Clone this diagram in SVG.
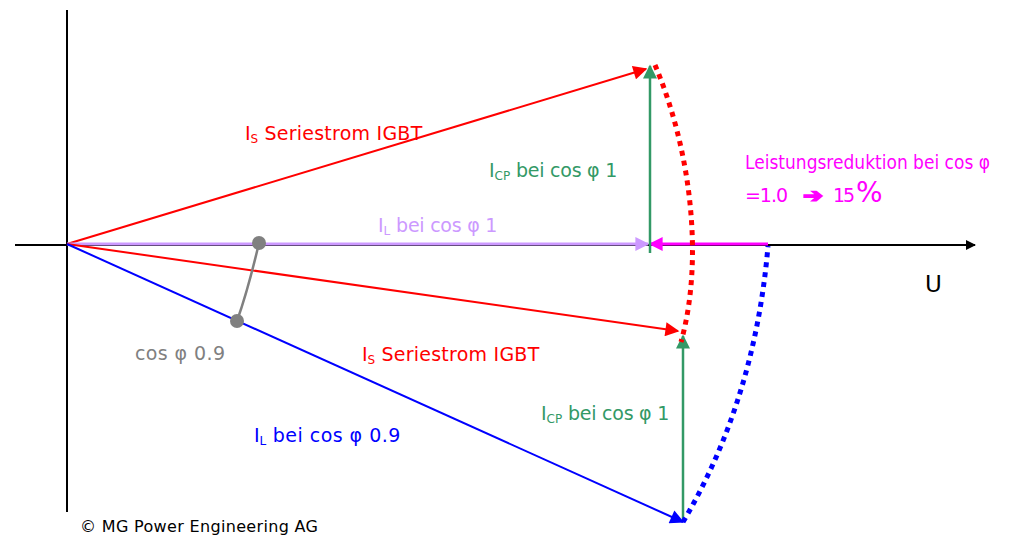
<svg xmlns="http://www.w3.org/2000/svg" width="1032" height="537" viewBox="0 0 1032 537">
<style>
text{font-family:"DejaVu Sans","Liberation Sans",sans-serif;font-size:19px}
.red{fill:#ff0000}.green{fill:#339966}.lav{fill:#cc99ff}.mag{fill:#ff00ff}.gray{fill:#808080}.blue{fill:#0000ff}
.sub{font-size:12px}
</style>
<defs>
<marker id="aBlack" viewBox="0 0 10 10" refX="9" refY="5" markerWidth="10" markerHeight="10" markerUnits="userSpaceOnUse" orient="auto"><path d="M0,0L10,5L0,10z" fill="#000"/></marker>
<marker id="aRed" viewBox="0 0 10 10" refX="9" refY="5" markerWidth="16" markerHeight="14" markerUnits="userSpaceOnUse" orient="auto"><path d="M0,0L10,5L0,10z" fill="#ff0000"/></marker>
<marker id="aGreen" viewBox="0 0 10 10" refX="9" refY="5" markerWidth="16" markerHeight="14" markerUnits="userSpaceOnUse" orient="auto"><path d="M0,0L10,5L0,10z" fill="#339966"/></marker>
<marker id="aLav" viewBox="0 0 10 10" refX="9" refY="5" markerWidth="16" markerHeight="14" markerUnits="userSpaceOnUse" orient="auto"><path d="M0,0L10,5L0,10z" fill="#cc99ff"/></marker>
<marker id="aMag" viewBox="0 0 10 10" refX="9" refY="5" markerWidth="16" markerHeight="14" markerUnits="userSpaceOnUse" orient="auto"><path d="M0,0L10,5L0,10z" fill="#ff00ff"/></marker>
<marker id="aBlue" viewBox="0 0 10 10" refX="9" refY="5" markerWidth="16" markerHeight="14" markerUnits="userSpaceOnUse" orient="auto"><path d="M0,0L10,5L0,10z" fill="#0000ff"/></marker>
</defs>
<rect width="1032" height="537" fill="#fff"/>
<g id="axes" stroke="#000" stroke-width="2" fill="none">
<line x1="67" y1="10" x2="67" y2="512"/>
<line x1="15" y1="245" x2="975" y2="245" marker-end="url(#aBlack)"/>
</g>
<g id="connectors" fill="none">
<line x1="67" y1="244" x2="646" y2="69" stroke="#ff0000" stroke-width="2" marker-end="url(#aRed)"/>
<line x1="67" y1="244" x2="648" y2="244" stroke="#cc99ff" stroke-width="3" marker-end="url(#aLav)"/>
<line x1="768" y1="244" x2="650" y2="244" stroke="#ff00ff" stroke-width="3" marker-end="url(#aMag)"/>
<line x1="650" y1="253" x2="650" y2="66" stroke="#339966" stroke-width="2.5" marker-end="url(#aGreen)"/>
<line x1="67" y1="244" x2="678" y2="331" stroke="#ff0000" stroke-width="2" marker-end="url(#aRed)"/>
<line x1="67" y1="244" x2="683" y2="522" stroke="#0000ff" stroke-width="2" marker-end="url(#aBlue)"/>
<line x1="683" y1="520" x2="683" y2="336" stroke="#339966" stroke-width="2.5" marker-end="url(#aGreen)"/>
<path d="M655,65 C691,150 704,260 681,342" stroke="#ff0000" stroke-width="5" stroke-dasharray="5 5"/>
<path d="M683,522 Q755,400 768,246" stroke="#0000ff" stroke-width="5" stroke-dasharray="5 5"/>
<path d="M259,243 Q248,290 237,321" stroke="#808080" stroke-width="2.5"/>
<circle cx="259" cy="243" r="7" fill="#808080"/>
<circle cx="237" cy="321" r="7" fill="#808080"/>
</g>
<g id="labels">
<text x="245" y="140" class="red">I<tspan class="sub" dy="3">S</tspan><tspan dy="-3" textLength="164"> Seriestrom IGBT</tspan></text>
<text x="489" y="177" class="green">I<tspan class="sub" dy="3">CP</tspan><tspan dy="-3" textLength="107"> bei cos φ 1</tspan></text>
<text x="378" y="232" class="lav">I<tspan class="sub" dy="3">L</tspan><tspan dy="-3" textLength="107"> bei cos φ 1</tspan></text>
<text x="745" y="169" class="mag" textLength="245" lengthAdjust="spacingAndGlyphs">Leistungsreduktion bei cos φ</text>
<text y="202" class="mag"><tspan x="745" textLength="43">=1.0</tspan><tspan x="803" stroke="#ff00ff" stroke-width="1.6" textLength="20" lengthAdjust="spacingAndGlyphs">➔</tspan><tspan x="833" textLength="22">15</tspan><tspan x="856" font-size="28" textLength="26">%</tspan></text>
<text x="925" y="292" style="font-size:23px">U</text>
<text x="135" y="360" class="gray" textLength="90">cos φ 0.9</text>
<text x="362" y="361" class="red">I<tspan class="sub" dy="3">S</tspan><tspan dy="-3" textLength="164"> Seriestrom IGBT</tspan></text>
<text x="541" y="420" class="green">I<tspan class="sub" dy="3">CP</tspan><tspan dy="-3" textLength="107"> bei cos φ 1</tspan></text>
<text x="254" y="442" class="blue">I<tspan class="sub" dy="3">L</tspan><tspan dy="-3" textLength="134"> bei cos φ 0.9</tspan></text>
<text x="80" y="532" style="font-size:16px" textLength="238">© MG Power Engineering AG</text>
</g>
</svg>
